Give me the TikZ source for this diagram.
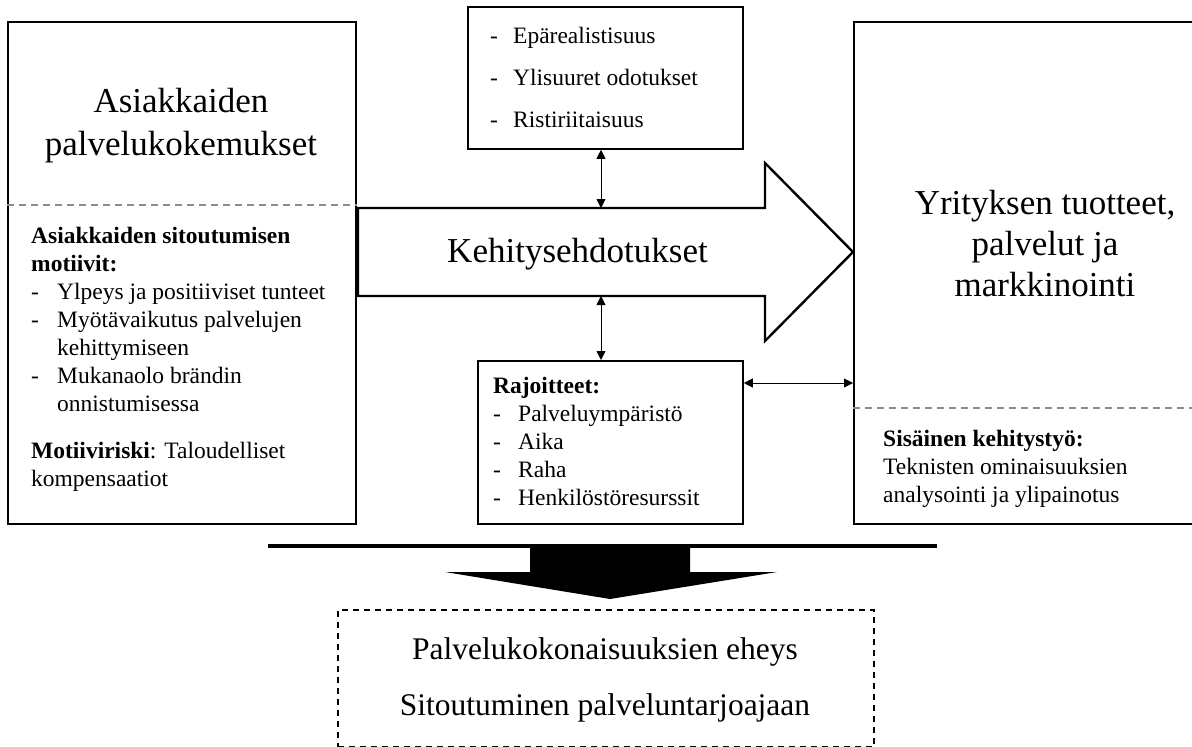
\documentclass[tikz,border=0pt]{standalone}
\usepackage{fontspec}
\setmainfont{Liberation Serif}
\usetikzlibrary{arrows.meta}
\newcommand{\fsBody}{\fontsize{23.5pt}{28pt}\selectfont}
\newcommand{\fsTitle}[1]{\fontsize{35pt}{#1}\selectfont}
\begin{document}
\begin{tikzpicture}[x=1pt,y=-1pt,
  box/.style={draw,line width=1.8pt,rectangle,inner sep=0pt,anchor=north west},
  sepline/.style={draw=black!45,line width=1.6pt,dash pattern=on 7pt off 5pt},
  link/.style={line width=0.9pt,{Triangle[length=9pt,width=9pt]}-{Triangle[length=9pt,width=9pt]}},
  txt/.style={inner sep=0pt,anchor=base west},
  ctxt/.style={inner sep=0pt,anchor=base}]
\useasboundingbox (0,0) rectangle (1192,747);
\clip (0,0) rectangle (1192,747);

% boxes
\node[box,minimum width=348pt,minimum height=502pt] (cust) at (7,21) {};
\node[box,minimum width=384pt,minimum height=502pt] (comp) at (853,21) {};
\node[box,minimum width=275pt,minimum height=142pt] (risk) at (467,6) {};
\node[box,minimum width=265pt,minimum height=163pt] (lim) at (477,360) {};
\node[box,line width=1.5pt,dash pattern=on 6pt off 5pt,minimum width=536pt,minimum height=137pt] (res) at (337,609) {};

% separators
\coordinate (sepL) at (0,205);
\coordinate (sepR) at (0,408);
\draw[sepline] (cust.west |- sepL) -- (cust.east |- sepL);
\draw[sepline] (comp.west |- sepR) -- (comp.east |- sepR);

% big arrow
\draw[line width=2.4pt,fill=white] (358,208) -- (765,208) -- (765,163) -- (853,252) -- (765,341) -- (765,296) -- (358,296) -- cycle;
\node[ctxt] (ideas) at (577.5,262) {\fsTitle{42pt}Kehitysehdotukset};

% connectors
\coordinate (ktop) at (601,208);
\coordinate (kbot) at (601,296);
\coordinate (hlev) at (0,383);
\draw[link] (risk.south -| ktop) -- (ktop);
\draw[link] (kbot) -- (lim.north -| kbot);
\draw[link] (lim.east |- hlev) -- (comp.west |- hlev);

% titles
\node[ctxt] (custtitle) at (181,112) {\fsTitle{43pt}\begin{tabular}[t]{@{}c@{}}Asiakkaiden\\palvelukokemukset\end{tabular}};
\node[ctxt] (comptitle) at (1045,214) {\fsTitle{41pt}\begin{tabular}[t]{@{}c@{}}Yrityksen tuotteet,\\palvelut ja\\markkinointi\end{tabular}};

% left lower text
\node[txt] (motives) at (31,243) {\fsBody\begin{tabular}[t]{@{}p{26pt}@{}l@{}}
\multicolumn{2}{@{}l@{}}{\bfseries Asiakkaiden sitoutumisen}\\
\multicolumn{2}{@{}l@{}}{\bfseries motiivit:}\\
- & Ylpeys ja positiiviset tunteet\\
- & Myötävaikutus palvelujen\\
  & kehittymiseen\\
- & Mukanaolo brändin\\
  & onnistumisessa\\[19pt]
\multicolumn{2}{@{}l@{}}{\textbf{Motiiviriski}: Taloudelliset}\\
\multicolumn{2}{@{}l@{}}{kompensaatiot}
\end{tabular}};

% top box text
\node[txt] (risktxt) at (490,43) {\fontsize{23.5pt}{42pt}\selectfont\begin{tabular}[t]{@{}p{23pt}@{}l@{}}
- & Epärealistisuus\\
- & Ylisuuret odotukset\\
- & Ristiriitaisuus
\end{tabular}};

% limits text
\node[txt] (limtxt) at (493,393) {\fsBody\begin{tabular}[t]{@{}p{25pt}@{}l@{}}
\multicolumn{2}{@{}l@{}}{\bfseries Rajoitteet:}\\
- & Palveluympäristö\\
- & Aika\\
- & Raha\\
- & Henkilöstöresurssit
\end{tabular}};

% right lower text
\node[txt] (inner) at (883,446) {\fsBody\begin{tabular}[t]{@{}l@{}}
\textbf{Sisäinen kehitystyö:}\\
Teknisten ominaisuuksien\\
analysointi ja ylipainotus
\end{tabular}};

% bottom bar and arrow
\draw[line width=4pt] (268,545.5) -- (937,545.5);
\fill (530,547) -- (690,547) -- (690,572) -- (777,572) -- (610,599) -- (445,572) -- (530,572) -- cycle;

% result text
\node[ctxt] (restxt) at (605,659) {\fontsize{31.5pt}{56pt}\selectfont\begin{tabular}[t]{@{}c@{}}Palvelukokonaisuuksien eheys\\Sitoutuminen palveluntarjoajaan\end{tabular}};
\end{tikzpicture}
\end{document}
